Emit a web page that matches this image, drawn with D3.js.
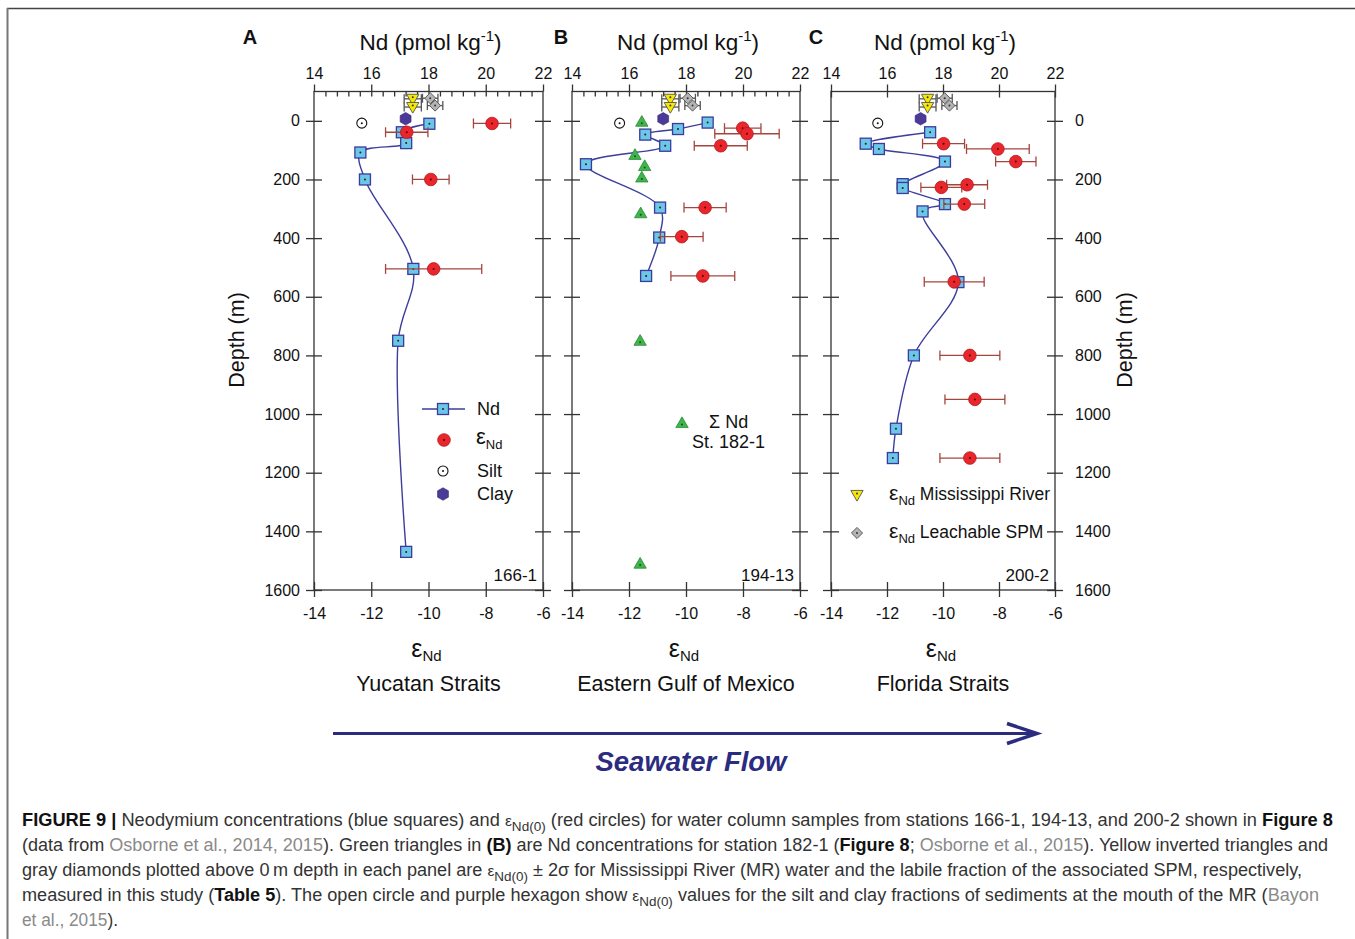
<!DOCTYPE html>
<html>
<head>
<meta charset="utf-8">
<script src="https://cdn.jsdelivr.net/npm/d3@7"></script>
<style>
  body { margin: 0; background: #fff; }
  svg text { font-family: "Liberation Sans", Arial, sans-serif; fill: #111; }
</style>
</head>
<body>
<svg id="fig" width="1355" height="939"></svg>
<script>
// ---- tick values ----
const depthTicks = [0, 200, 400, 600, 800, 1000, 1200, 1400, 1600];
const epsTicks = [-14, -12, -10, -8, -6];
const ndTicks = [14, 16, 18, 20, 22];

// ---- panel A : 166-1 Yucatan Straits ----
const ndDepthA = [10, 39, 76, 108, 200, 505, 750, 1470];
const ndConcA  = [18.03, 17.07, 17.22, 15.62, 15.78, 17.47, 16.94, 17.22];
const epsDepthA = [9, 39, 200, 505];
const epsValueA = [-7.78, -10.76, -9.92, -9.82];
const epsErrA   = [0.65, 0.74, 0.64, 1.68];

// ---- panel B : 194-13 Eastern Gulf of Mexico ----
const ndDepthB = [6, 28, 47, 85, 148, 296, 398, 529];
const ndConcB  = [18.76, 17.72, 16.57, 17.27, 14.49, 17.09, 17.06, 16.60];
const epsDepthB = [25, 44, 85, 296, 395, 529];
const epsValueB = [-8.01, -7.86, -8.78, -9.33, -10.15, -9.41];
const epsErrB   = [0.64, 1.13, 0.93, 0.74, 0.75, 1.12];
const sumNdDepth = [3, 116, 154, 193, 315, 750, 1510];   // station 182-1
const sumNdConc  = [16.45, 16.21, 16.55, 16.45, 16.41, 16.39, 16.39];

// ---- panel C : 200-2 Florida Straits ----
const ndDepthC = [39, 78, 96, 139, 216, 229, 284, 309, 550, 800, 1050, 1150];
const ndConcC  = [17.54, 15.24, 15.71, 18.07, 16.56, 16.56, 18.07, 17.27, 18.55, 16.96, 16.32, 16.21];
const epsDepthC = [78, 96, 139, 218, 227, 284, 549, 800, 950, 1150];
const epsValueC = [-9.98, -8.04, -7.40, -9.14, -10.06, -9.24, -9.60, -9.04, -8.86, -9.04];
const epsErrC   = [0.75, 1.12, 0.72, 0.73, 0.73, 0.73, 1.07, 1.07, 1.07, 1.07];

// ---- shown in every panel (plotted above 0 m) ----
const riverDepth = [-75, -47];
const riverEps   = [-10.55, -10.55];
const riverErr   = [0.3, 0.3];
const spmDepth = [-77, -52];
const spmEps   = [-9.94, -9.77];
const spmErr   = [0.27, 0.27];
const siltDepth = 8,  siltEps = -12.33;
const clayDepth = -7, clayEps = -10.8;

const panels = [
  {label: "A", lx: 250, x0: 314, x1: 543, ndD: ndDepthA, ndV: ndConcA, eD: epsDepthA, eV: epsValueA, eE: epsErrA,
   station: "166-1", region: "Yucatan Straits", minor: true},
  {label: "B", lx: 561, x0: 572, x1: 800, ndD: ndDepthB, ndV: ndConcB, eD: epsDepthB, eV: epsValueB, eE: epsErrB,
   station: "194-13", region: "Eastern Gulf of Mexico", minor: true},
  {label: "C", lx: 816, x0: 831, x1: 1055, ndD: ndDepthC, ndV: ndConcC, eD: epsDepthC, eV: epsValueC, eE: epsErrC,
   station: "200-2", region: "Florida Straits", minor: false}
];

const svg = d3.select("#fig");
const plotTop = 91.5, plotBottom = 590;
const y = d3.scaleLinear().domain([-100, 1600]).range([plotTop, plotBottom]);

const axisColor = "#333";
const curveColor = "#3d3d9d";
const errColor = "#a3463e";
const plain = d => String(d);   // hyphen-minus as in the original

function hexPath(r) {
  const pts = d3.range(6).map(k => {
    const a = Math.PI / 6 + k * Math.PI / 3;
    return [r * Math.cos(a), r * Math.sin(a)];
  });
  return "M" + pts.join("L") + "Z";
}

function styleAxis(g) {
  g.select(".domain").remove();
  g.selectAll(".tick line").attr("stroke", axisColor).attr("stroke-width", 1.3);
  g.selectAll(".tick text").attr("font-size", 16).attr("fill", "#111")
    .attr("font-family", "Liberation Sans, Arial, sans-serif");
}

function dot(g, cx, cy, color) {
  g.append("circle").attr("cx", cx).attr("cy", cy).attr("r", 1).attr("fill", color);
}

function errBar(g, x, xl, xr, cy, color, cap) {
  g.append("line").attr("x1", x(xl)).attr("x2", x(xr)).attr("y1", cy).attr("y2", cy)
    .attr("stroke", color).attr("stroke-width", 1.3);
  [xl, xr].forEach(v => g.append("line").attr("x1", x(v)).attr("x2", x(v))
    .attr("y1", cy - cap).attr("y2", cy + cap).attr("stroke", color).attr("stroke-width", 1.3));
}

function square(g, sx, sy) {
  g.append("rect").attr("x", sx - 5.5).attr("y", sy - 5.5).attr("width", 11).attr("height", 11)
    .attr("fill", "#6cc6e8").attr("stroke", "#3b3b9b").attr("stroke-width", 1.3);
  dot(g, sx, sy, "#222");
}
function redDot(g, ex, ey) {
  g.append("circle").attr("cx", ex).attr("cy", ey).attr("r", 6.3)
    .attr("fill", "#e8262b").attr("stroke", "#b3191e").attr("stroke-width", 0.8);
  dot(g, ex, ey, "#5a0000");
}
function greenTri(g, gx, gy) {
  g.append("path").attr("transform", `translate(${gx},${gy + 1})`)
    .attr("d", d3.symbol(d3.symbolTriangle, 66)())
    .attr("fill", "#3fb54a").attr("stroke", "#2a8a3a").attr("stroke-width", 0.8);
  dot(g, gx, gy + 1.5, "#1d4d1d");
}
function yellowTri(g, rx, ry) {
  g.append("path").attr("transform", `translate(${rx},${ry - 1}) rotate(180)`)
    .attr("d", d3.symbol(d3.symbolTriangle, 66)())
    .attr("fill", "#f6e800").attr("stroke", "#555").attr("stroke-width", 0.9);
  dot(g, rx, ry - 1.5, "#333");
}
function diamond(g, sx, sy) {
  g.append("path").attr("transform", `translate(${sx},${sy}) rotate(45)`)
    .attr("d", d3.symbol(d3.symbolSquare, 62)())
    .attr("fill", "#b4b4b4").attr("stroke", "#555").attr("stroke-width", 0.9);
  dot(g, sx, sy, "#333");
}
function silt(g, cx, cy) {
  g.append("circle").attr("cx", cx).attr("cy", cy).attr("r", 5)
    .attr("fill", "#fff").attr("stroke", "#111").attr("stroke-width", 1.1);
  dot(g, cx, cy, "#111");
}
function clay(g, cx, cy) {
  g.append("path").attr("transform", `translate(${cx},${cy})`).attr("d", hexPath(6.3))
    .attr("fill", "#4b3a96").attr("stroke", "#3a2c80").attr("stroke-width", 0.6);
}

panels.forEach((p, pi) => {
  const xNd = d3.scaleLinear().domain([14, 22]).range([p.x0, p.x1]);
  const xEps = d3.scaleLinear().domain([-14, -6]).range([p.x0, p.x1]);
  const g = svg.append("g");

  // frame
  g.append("rect").attr("x", p.x0).attr("y", plotTop).attr("width", p.x1 - p.x0).attr("height", plotBottom - plotTop)
    .attr("fill", "none").attr("stroke", axisColor).attr("stroke-width", 1.3);

  // top axis (Nd)
  g.append("g").attr("transform", `translate(0,${plotTop})`)
    .call(d3.axisTop(xNd).tickValues(ndTicks).tickSize(7).tickPadding(6).tickFormat(plain))
    .call(styleAxis);
  if (p.minor) {
    g.append("g").attr("transform", `translate(0,${plotTop})`)
      .call(d3.axisTop(xNd).tickValues(d3.range(14.4, 22, 0.4)).tickSize(-5).tickFormat(""))
      .call(styleAxis);
  } else {
    g.append("g").attr("transform", `translate(0,${plotTop})`)
      .call(d3.axisTop(xNd).tickValues(ndTicks).tickSize(-6).tickFormat(""))
      .call(styleAxis);
  }

  // bottom axis (eps)
  g.append("g").attr("transform", `translate(0,${plotBottom})`)
    .call(d3.axisBottom(xEps).tickValues(epsTicks).tickSize(7).tickPadding(11).tickFormat(plain))
    .call(styleAxis);
  g.append("g").attr("transform", `translate(0,${plotBottom})`)
    .call(d3.axisBottom(xEps).tickValues(epsTicks).tickSize(-8).tickFormat(""))
    .call(styleAxis);

  // depth ticks both sides, crossing
  [p.x0, p.x1].forEach((xx, si) => {
    const labelled = (pi === 0 && si === 0) || (pi === 2 && si === 1);
    const mk = si === 0 ? d3.axisLeft : d3.axisRight;
    g.append("g").attr("transform", `translate(${xx},0)`)
      .call(mk(y).tickValues(depthTicks).tickSize(8).tickPadding(si === 0 ? 6 : 12)
        .tickFormat(labelled ? plain : ""))
      .call(styleAxis);
    g.append("g").attr("transform", `translate(${xx},0)`)
      .call(mk(y).tickValues(depthTicks).tickSize(-8).tickFormat(""))
      .call(styleAxis);
  });

  // titles
  const cx = (p.x0 + p.x1) / 2;
  const t = g.append("text").attr("x", cx + 2).attr("y", 50).attr("text-anchor", "middle").attr("font-size", 22.5);
  t.append("tspan").text("Nd (pmol kg");
  t.append("tspan").attr("font-size", 15).attr("dy", -9).text("-1");
  t.append("tspan").attr("dy", 9).text(")");
  g.append("text").attr("x", p.lx).attr("y", 44).attr("text-anchor", "middle")
    .attr("font-size", 20).attr("font-weight", "bold").text(p.label);

  const e = g.append("text").attr("x", cx - 2).attr("y", 657).attr("text-anchor", "middle");
  e.append("tspan").attr("font-size", 25).text("ε");
  e.append("tspan").attr("font-size", 15).attr("dy", 4).text("Nd");
  g.append("text").attr("x", cx).attr("y", 691).attr("text-anchor", "middle").attr("font-size", 21.5).text(p.region);
  g.append("text").attr("x", p.x1 - 6).attr("y", 581).attr("text-anchor", "end").attr("font-size", 17).text(p.station);

  // Nd profile curve
  const pts = p.ndD.map((d, i) => [xNd(p.ndV[i]), y(d)]);
  g.append("path").attr("d", d3.line().curve(d3.curveCatmullRom.alpha(0.5))(pts))
    .attr("fill", "none").attr("stroke", curveColor).attr("stroke-width", 1.4);

  // sigma Nd station 182-1 (panel B only)
  if (p.label === "B") {
    sumNdDepth.forEach((d, i) => greenTri(g, xNd(sumNdConc[i]), y(d)));
  }

  // Nd squares
  pts.forEach(([sx, sy]) => square(g, sx, sy));

  // eps error bars and circles
  p.eD.forEach((d, i) => errBar(g, xEps, p.eV[i] - p.eE[i], p.eV[i] + p.eE[i], y(d), errColor, 5));
  p.eD.forEach((d, i) => redDot(g, xEps(p.eV[i]), y(d)));

  // Mississippi River water (yellow) and leachable SPM (grey)
  riverDepth.forEach((d, i) => errBar(g, xEps, riverEps[i] - riverErr[i], riverEps[i] + riverErr[i], y(d), "#555", 4.5));
  spmDepth.forEach((d, i) => errBar(g, xEps, spmEps[i] - spmErr[i], spmEps[i] + spmErr[i], y(d), "#555", 4.5));
  riverDepth.forEach((d, i) => yellowTri(g, xEps(riverEps[i]), y(d)));
  spmDepth.forEach((d, i) => diamond(g, xEps(spmEps[i]), y(d)));

  // silt and clay
  silt(g, xEps(siltEps), y(siltDepth));
  clay(g, xEps(clayEps), y(clayDepth));
});

// depth labels
svg.append("text").attr("transform", "translate(244,340) rotate(-90)").attr("text-anchor", "middle")
  .attr("font-size", 21.5).text("Depth (m)");
svg.append("text").attr("transform", "translate(1132,340) rotate(-90)").attr("text-anchor", "middle")
  .attr("font-size", 21.5).text("Depth (m)");

// ---- legends ----
const legA = svg.append("g");
legA.append("line").attr("x1", 422).attr("x2", 465).attr("y1", 409).attr("y2", 409)
  .attr("stroke", curveColor).attr("stroke-width", 1.4);
square(legA, 443, 409);
legA.append("text").attr("x", 477).attr("y", 415).attr("font-size", 18).text("Nd");
redDot(legA, 444, 440);
const le = legA.append("text").attr("x", 476).attr("y", 444);
le.append("tspan").attr("font-size", 22).text("ε");
le.append("tspan").attr("font-size", 13).attr("dy", 5).text("Nd");
silt(legA, 443, 471);
legA.append("text").attr("x", 477).attr("y", 477).attr("font-size", 18).text("Silt");
clay(legA, 443, 494);
legA.append("text").attr("x", 477).attr("y", 500).attr("font-size", 18).text("Clay");

const legB = svg.append("g");
greenTri(legB, 682, 423);
legB.append("text").attr("x", 709).attr("y", 428).attr("font-size", 18).text("Σ Nd");
legB.append("text").attr("x", 692).attr("y", 448).attr("font-size", 18).text("St. 182-1");

const legC = svg.append("g");
yellowTri(legC, 857, 495);
diamond(legC, 857, 533);
[["Mississippi River", 500], ["Leachable SPM", 538]].forEach(([lab, yy]) => {
  const tx = legC.append("text").attr("x", 889).attr("y", yy);
  tx.append("tspan").attr("font-size", 21).text("ε");
  tx.append("tspan").attr("font-size", 13).attr("dy", 5).text("Nd");
  tx.append("tspan").attr("font-size", 17.5).attr("dy", -5).text(" " + lab);
});

// ---- seawater flow arrow ----
const navy = "#2b2b80";
svg.append("line").attr("x1", 333).attr("x2", 1036).attr("y1", 733.5).attr("y2", 733.5)
  .attr("stroke", navy).attr("stroke-width", 3);
svg.append("polyline").attr("points", "1007,723.5 1037,733.5 1007,743.5")
  .attr("fill", "none").attr("stroke", navy).attr("stroke-width", 3.5);
svg.append("text").attr("x", 691).attr("y", 771).attr("text-anchor", "middle")
  .attr("font-size", 27.5).attr("font-weight", "bold").attr("font-style", "italic")
  .style("fill", navy).text("Seawater Flow");

// ---- frame border ----
svg.append("line").attr("x1", 7).attr("x2", 1355).attr("y1", 8.5).attr("y2", 8.5).attr("stroke", "#444").attr("stroke-width", 1.5);
svg.append("line").attr("x1", 7.5).attr("x2", 7.5).attr("y1", 8).attr("y2", 939).attr("stroke", "#777").attr("stroke-width", 2);

// ---- caption ----
const B = "b", L = "l", N = "n", S = "s";
const captionLines = [
  {w: 1311, segs: [[B, "FIGURE 9 | "], [N, "Neodymium concentrations (blue squares) and "], [S, ""], [N, " (red circles) for water column samples from stations 166-1, 194-13, and 200-2 shown in "], [B, "Figure 8"]]},
  {w: 1306, segs: [[N, "(data from "], [L, "Osborne et al., 2014, 2015"], [N, "). Green triangles in "], [B, "(B)"], [N, " are Nd concentrations for station 182-1 ("], [B, "Figure 8"], [N, "; "], [L, "Osborne et al., 2015"], [N, "). Yellow inverted triangles and"]]},
  {w: 1280, segs: [[N, "gray diamonds plotted above 0\u2009m depth in each panel are "], [S, ""], [N, " \u00b1 2\u03c3 for Mississippi River (MR) water and the labile fraction of the associated SPM, respectively,"]]},
  {w: 1297, segs: [[N, "measured in this study ("], [B, "Table 5"], [N, "). The open circle and purple hexagon show "], [S, ""], [N, " values for the silt and clay fractions of sediments at the mouth of the MR ("], [L, "Bayon"]]},
  {w: 96, segs: [[L, "et al., 2015"], [N, ")."]]}
];
captionLines.forEach((ln, i) => {
  const tx = svg.append("text").attr("x", 22).attr("y", 826 + i * 25).attr("font-size", 17.5)
    .attr("textLength", ln.w).attr("lengthAdjust", "spacingAndGlyphs");
  let shift = 0;
  ln.segs.forEach(([kind, str]) => {
    if (kind === S) {
      tx.append("tspan").attr("font-size", 15).style("fill", "#333").text("ε");
      tx.append("tspan").attr("font-size", 13).attr("dy", 5).style("fill", "#333").text("Nd(0)");
      shift = -5;
    } else {
      const ts = tx.append("tspan").text(str);
      if (shift) { ts.attr("dy", shift); shift = 0; }
      if (kind === B) ts.attr("font-weight", "bold").style("fill", "#111");
      else if (kind === L) ts.style("fill", "#8a8a8a");
      else ts.style("fill", "#333");
    }
  });
});
</script>
</body>
</html>
